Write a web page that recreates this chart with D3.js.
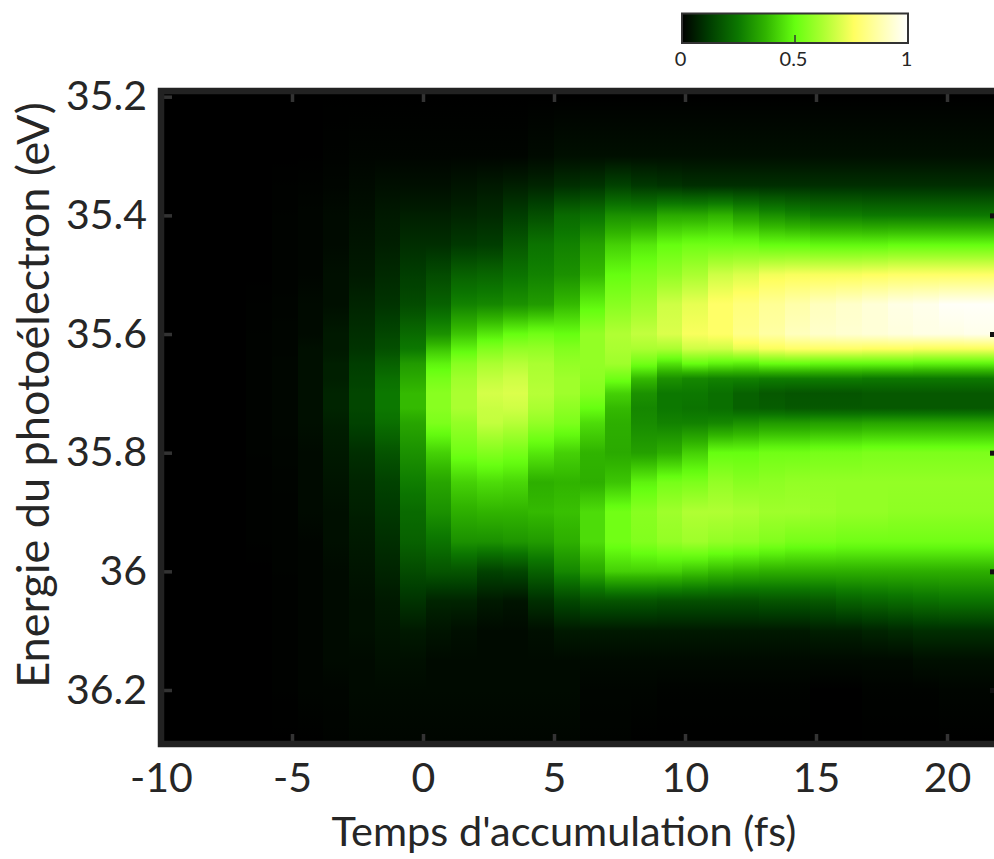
<!DOCTYPE html>
<html>
<head>
<meta charset="utf-8">
<script src="https://cdn.jsdelivr.net/npm/d3@7"></script>
<style>
body { margin: 0; background: #fff; }
text { font-family: Lato, sans-serif; fill: #262626; }
</style>
</head>
<body>
<div id="graph"></div>
<script>
const width = 994;
const height = 859;

// Tick labels
const timeTicks = [-10, -5, 0, 5, 10, 15, 20];
const energyTicks = [35.2, 35.4, 35.6, 35.8, 36, 36.2];
const barTicks = [0, 0.5, 1];

// Colour map
const colorValues = [0, 0.12, 0.25, 0.37, 0.5, 0.62, 0.76, 0.88, 1];
const colorHex = ["#000000", "#003d00", "#0c7800", "#30b400", "#66ff10", "#aaff30", "#ffff60", "#ffffb0", "#ffffff"];

// Start of each measured column (fs), one entry per row of intensity
const times = [-9.69, -8.71, -7.73, -6.75, -5.77, -4.79, -3.81, -2.83, -1.85, -0.87, 0.11,
  1.08, 2.06, 3.04, 4.02, 5, 5.98, 6.96, 7.94, 8.92, 9.9, 10.87, 11.85, 12.83, 13.81,
  14.79, 15.77, 16.75, 17.73, 18.71, 19.69, 20.66, 21.64];
const timeStep = 0.98;

// Energy of each value inside a column (eV)
const energies = [35.2, 35.3, 35.35, 35.4, 35.45, 35.5, 35.55, 35.6, 35.625, 35.65, 35.675, 35.7,
  35.725, 35.75, 35.8, 35.85, 35.9, 35.95, 36, 36.05, 36.1, 36.15, 36.2, 36.3];

// Normalised signal, one line per time column
const intensity = [
  [0,0,0,0,0,0,0,0,0,0,0,0,0,0,0,0,0,0,0,0,0,0,0,0],
  [0,0,0,0,0,0,0,0,0,0,0,0,0,0,0,0,0,0,0,0,0,0,0,0],
  [0,0,0,0,0,0,0,0,0,0,0,0,0,0,0,0,0,0,0,0,0,0,0,0],
  [0,0,0,0,0,0,.003,.005,.005,.005,.005,.005,.005,.005,.005,.003,.003,.003,0,0,0,0,0,0],
  [0,0,.003,.005,.005,.005,.008,.01,.01,.012,.012,.012,.012,.012,.01,.008,.005,.005,.005,.003,.003,.003,.003,0],
  [0,0,.005,.01,.01,.01,.02,.02,.03,.03,.03,.03,.03,.03,.02,.02,.02,.01,.01,.01,.01,.01,.01,0],
  [0,.005,.01,.02,.02,.03,.03,.05,.05,.06,.06,.07,.07,.06,.05,.04,.03,.03,.02,.02,.02,.02,.01,.005],
  [0,.01,.02,.03,.04,.05,.07,.09,.1,.12,.13,.14,.14,.13,.09,.07,.06,.05,.04,.03,.03,.02,.02,.01],
  [0,.01,.03,.05,.06,.08,.1,.14,.16,.2,.23,.25,.25,.23,.17,.13,.11,.09,.07,.05,.04,.03,.02,.01],
  [0,.01,.03,.06,.09,.12,.15,.22,.25,.32,.35,.38,.38,.34,.3,.26,.22,.2,.15,.1,.05,.03,.02,.01],
  [0,.01,.03,.06,.09,.15,.2,.3,.4,.48,.53,.56,.56,.54,.42,.34,.3,.24,.17,.07,.04,.02,.02,.01],
  [0,.01,.04,.07,.11,.2,.27,.4,.48,.56,.6,.62,.62,.58,.52,.42,.36,.3,.17,.07,.03,.02,.02,.01],
  [0,.01,.05,.08,.12,.21,.28,.46,.55,.62,.66,.69,.67,.66,.55,.44,.37,.3,.13,.05,.02,.02,.02,.01],
  [0,.01,.06,.12,.18,.24,.3,.5,.58,.64,.68,.7,.68,.64,.53,.43,.37,.31,.14,.04,.02,.02,.02,.01],
  [0,.02,.07,.16,.24,.27,.32,.52,.58,.62,.63,.64,.62,.58,.46,.36,.38,.32,.2,.09,.03,.02,.02,.01],
  [0,.03,.09,.22,.27,.3,.38,.5,.55,.58,.6,.6,.57,.54,.42,.37,.39,.36,.28,.14,.05,.02,.02,.01],
  [0,.03,.1,.24,.33,.38,.48,.58,.58,.58,.57,.55,.5,.44,.37,.36,.44,.44,.35,.17,.05,.02,.01,.005],
  [0,.03,.13,.3,.42,.5,.56,.63,.62,.6,.52,.42,.38,.36,.35,.4,.52,.52,.42,.17,.05,.02,.01,.005],
  [0,.03,.11,.3,.46,.54,.6,.66,.62,.52,.38,.3,.28,.29,.33,.48,.56,.55,.42,.17,.05,.02,.01,0],
  [0,.03,.1,.35,.5,.58,.68,.7,.62,.45,.3,.25,.25,.27,.36,.53,.6,.58,.42,.16,.05,.02,.005,0],
  [0,.03,.09,.35,.52,.62,.72,.75,.68,.5,.28,.25,.24,.27,.42,.54,.63,.6,.4,.16,.05,.02,.005,0],
  [0,.03,.09,.37,.52,.68,.77,.77,.68,.48,.27,.23,.23,.28,.5,.58,.63,.58,.38,.16,.05,.02,.005,0],
  [0,.03,.09,.33,.52,.7,.8,.82,.72,.47,.27,.2,.2,.3,.5,.56,.62,.57,.37,.16,.05,.02,.005,0],
  [0,.03,.09,.3,.5,.74,.84,.86,.75,.5,.26,.18,.19,.32,.52,.57,.6,.55,.36,.17,.05,.02,.005,0],
  [0,.03,.09,.28,.5,.75,.87,.9,.77,.5,.26,.17,.18,.32,.52,.58,.6,.53,.36,.17,.05,.02,.005,0],
  [0,.03,.09,.26,.49,.75,.9,.92,.77,.49,.26,.17,.18,.33,.53,.58,.59,.53,.36,.18,.06,.02,0,0],
  [0,.03,.09,.26,.49,.75,.92,.93,.77,.49,.26,.17,.18,.33,.53,.58,.58,.52,.36,.2,.06,.02,0,0],
  [0,.03,.09,.25,.49,.76,.94,.94,.76,.49,.25,.18,.18,.34,.54,.58,.58,.52,.36,.21,.07,.02,.005,0],
  [0,.03,.09,.25,.5,.77,.96,.95,.76,.49,.25,.18,.18,.34,.54,.58,.57,.52,.36,.22,.08,.02,.005,0],
  [0,.03,.09,.25,.5,.77,.97,.96,.75,.48,.25,.18,.18,.34,.54,.58,.57,.52,.36,.23,.09,.03,.005,0],
  [0,.03,.09,.25,.5,.77,.99,.96,.75,.48,.25,.18,.18,.34,.54,.58,.57,.52,.36,.24,.09,.03,.01,0],
  [0,.03,.09,.25,.5,.77,.99,.97,.75,.48,.25,.18,.18,.34,.54,.58,.57,.52,.36,.24,.09,.03,.01,0],
  [0,.03,.09,.25,.5,.77,.99,.97,.75,.48,.25,.18,.18,.34,.54,.58,.57,.52,.36,.24,.09,.03,.01,0]
];

// Create the SVG container.
const svg = d3.select("#graph").append("svg")
    .attr("width", width)
    .attr("height", height)
    .attr("viewBox", [0, 0, width, height])
    .style("display", "block");

const x = d3.scaleLinear().domain([-10, 20]).range([161, 947]);
const y = d3.scaleLinear().domain([35.2, 36.2]).range([96.7, 690]);
const color = d3.scaleLinear().domain(colorValues).range(colorHex);
const plotTop = 91, plotBottom = 744, plotLeft = 161;

const defs = svg.append("defs");
defs.append("clipPath").attr("id", "plot-clip").append("rect")
    .attr("x", plotLeft).attr("y", plotTop)
    .attr("width", width - plotLeft).attr("height", plotBottom - plotTop);

// One vertical gradient per column, the picture is smooth along energy only
const gy0 = y(energies[0]), gy1 = y(energies[energies.length - 1]);
intensity.forEach((col, i) => {
    const stops = [];
    col.forEach((v, j) => {
        if (j === col.length - 1) { stops.push({ e: energies[j], v }); return; }
        // extra stops so the colour follows the map between two values
        for (let s = 0; s < 5; s++) {
            stops.push({
                e: energies[j] + (energies[j + 1] - energies[j]) * s / 5,
                v: v + (col[j + 1] - v) * s / 5
            });
        }
    });
    defs.append("linearGradient")
        .attr("id", "col-" + i)
        .attr("gradientUnits", "userSpaceOnUse")
        .attr("x1", 0).attr("x2", 0).attr("y1", gy0).attr("y2", gy1)
        .selectAll("stop").data(stops).enter().append("stop")
        .attr("offset", d => (y(d.e) - gy0) / (gy1 - gy0))
        .attr("stop-color", d => color(d.v));
});

const heat = svg.append("g").attr("clip-path", "url(#plot-clip)");
heat.append("rect")
    .attr("x", plotLeft).attr("y", plotTop)
    .attr("width", width - plotLeft).attr("height", plotBottom - plotTop)
    .attr("fill", "#000");
heat.selectAll("rect.col")
    .data(times)
    .enter().append("rect")
    .attr("class", "col")
    .attr("x", d => x(d))
    .attr("y", plotTop)
    .attr("width", d => x(d + timeStep) - x(d))
    .attr("height", plotBottom - plotTop)
    .attr("shape-rendering", "crispEdges")
    .attr("fill", (d, i) => `url(#col-${i})`);

// Axes
const tickColor = "#333";
function styleAxis(g) {
    g.select(".domain").remove();
    g.selectAll("line").attr("stroke", tickColor).attr("stroke-width", 3.5);
    g.selectAll("text").style("font-size", "41px");
}
svg.append("g")
    .attr("transform", `translate(0,${plotBottom})`)
    .call(d3.axisBottom(x).tickValues(timeTicks).tickFormat(d => d).tickSize(-10).tickPadding(19))
    .call(styleAxis);
svg.append("g")
    .attr("transform", `translate(0,${plotTop})`)
    .call(d3.axisTop(x).tickValues(timeTicks).tickFormat("").tickSize(-11))
    .call(styleAxis);
svg.append("g")
    .attr("transform", `translate(${plotLeft},0)`)
    .call(d3.axisLeft(y).tickValues(energyTicks).tickFormat(d => d).tickSize(-11).tickPadding(14))
    .call(styleAxis);
svg.append("g")
    .attr("transform", `translate(${width},0)`)
    .call(d3.axisRight(y).tickValues(energyTicks.slice(1)).tickFormat("").tickSize(-4))
    .call(g => {
        g.select(".domain").remove();
        g.selectAll("line").attr("stroke", "#111").attr("stroke-width", 5);
    });

// Frame, the right side is cut off by the picture edge
svg.append("path")
    .attr("d", `M${width},${plotTop} H${plotLeft} V${plotBottom} H${width}`)
    .attr("fill", "none")
    .attr("stroke", "#222")
    .attr("stroke-width", 6.5);

// Axis titles
svg.append("text")
    .attr("x", 564).attr("y", 846)
    .attr("text-anchor", "middle")
    .style("font-size", "41.5px")
    .text("Temps d'accumulation (fs)");
svg.append("text")
    .attr("transform", "translate(49,395) rotate(-90)")
    .attr("text-anchor", "middle")
    .style("font-size", "45px")
    .text("Energie du photoélectron (eV)");

// Colour bar
const barX = d3.scaleLinear().domain([0, 1]).range([682, 908]);
const barTop = 13.5, barBottom = 43;
const barGrad = defs.append("linearGradient").attr("id", "bar-grad");
barGrad.selectAll("stop").data(colorValues).enter().append("stop")
    .attr("offset", d => d)
    .attr("stop-color", d => color(d));
svg.append("rect")
    .attr("x", barX(0)).attr("y", barTop)
    .attr("width", barX(1) - barX(0)).attr("height", barBottom - barTop)
    .attr("fill", "url(#bar-grad)")
    .attr("stroke", "#333")
    .attr("stroke-width", 2);
svg.append("g")
    .attr("transform", `translate(-2,${barBottom})`)
    .call(d3.axisBottom(barX).tickValues(barTicks).tickFormat(d => d).tickSize(0).tickPadding(9))
    .call(g => {
        g.select(".domain").remove();
        g.selectAll("text").style("font-size", "20px");
    });
svg.append("line")
    .attr("x1", barX(0.5)).attr("x2", barX(0.5))
    .attr("y1", barBottom).attr("y2", barBottom - 8)
    .attr("stroke", "#333").attr("stroke-width", 1.5);
</script>
</body>
</html>
